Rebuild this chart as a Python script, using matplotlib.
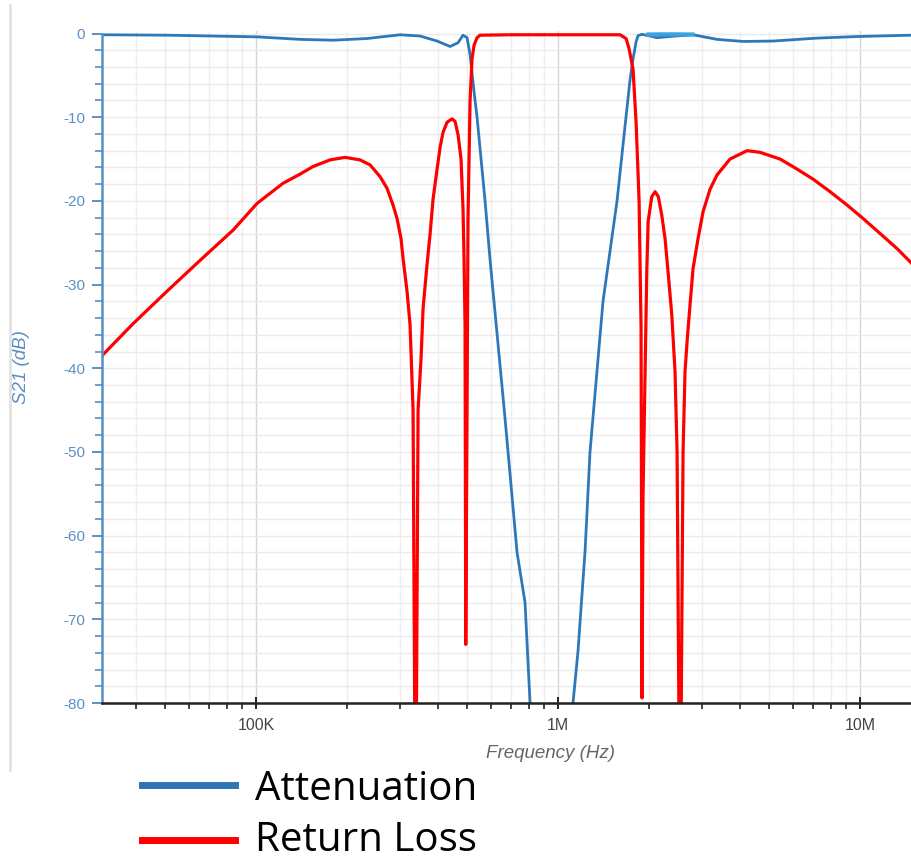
import numpy as np
import matplotlib.pyplot as plt
from matplotlib.lines import Line2D
from matplotlib.ticker import FixedLocator, MultipleLocator, FuncFormatter, NullFormatter

# Attenuation (S21), frequency in kHz / level in dB
att_khz = [30.9, 50.7, 100.8, 139.9, 179.9, 233.1, 299.8, 349.2, 397.6, 438.9,
           466.6, 484.6, 499.7, 511.3, 527.2, 539.3, 573.2, 595.4, 667.6, 731.6,
           777.5, 807.8, 826.5, 948.0, 1096, 1121, 1165, 1229, 1276, 1409,
           1568, 1667, 1732, 1772, 1813, 1841, 1897, 2017, 2127, 2440,
           2799, 3361, 4099, 5151, 7204, 10000, 14860]
att_db = [-0.15, -0.2, -0.4, -0.7, -0.8, -0.6, -0.15, -0.3, -0.9, -1.55,
          -1.1, -0.2, -0.5, -2.5, -7, -10, -20, -27, -46, -62,
          -68, -80, -88, -100, -88, -80, -73.7, -61.8, -50, -32,
          -20, -11, -5.5, -3, -1, -0.25, -0.1, -0.3, -0.5, -0.3,
          -0.15, -0.7, -0.95, -0.9, -0.55, -0.35, -0.2]

# light blue overlay segment near the top
hl_khz = [1990, 2200, 2450, 2790]
hl_db = [-0.12, -0.1, -0.1, -0.12]

# Return loss
rl_khz = [30.9, 39.1, 50.7, 65.3, 83.9, 100.8, 122.8, 139.9, 154.4, 175.8, 197.0,
          221.0, 238.5, 257.4, 271.5, 284.2, 293.0, 302.0, 306.8, 316.2, 323.6,
          331.1, 337.5, 344.0, 351.9, 357.3, 368.3, 376.9, 385.6, 397.6, 406.8,
          416.2, 429.1, 445.7, 456.0, 466.6, 477.3, 484.6, 488.4, 492.1, 494.8,
          499.7, 503.5, 511.3, 519.1, 527.2, 539.3, 551.7, 700, 1000, 1300,
          1604, 1680, 1718, 1772, 1813, 1855, 1883, 1897, 1912, 1942,
          1967, 1987, 2043, 2096, 2148, 2205, 2261, 2314, 2380, 2440,
          2478, 2535, 2594, 2633, 2680, 2736, 2799, 2908, 3021, 3187,
          3361, 3711, 4225, 4666, 5434, 6185, 6987, 7956, 9058, 10230,
          11650, 13260, 14860]
rl_db = [-38.5, -34.7, -30.8, -27.1, -23.5, -20.3, -17.9, -16.8, -15.9, -15.1, -14.8,
         -15.1, -15.7, -17.1, -18.5, -20.5, -22.1, -24.5, -26.9, -30.8, -34.8,
         -45, -100, -45, -38.8, -32.9, -27.6, -24.0, -19.8, -16.2, -13.6,
         -11.8, -10.6, -10.2, -10.5, -12.1, -15.0, -21.0, -26.9, -34.8, -73,
         -45, -22, -8, -3, -1.4, -0.5, -0.2, -0.15, -0.15, -0.15,
         -0.15, -0.6, -1.8, -4.3, -10.6, -20, -35, -79.4, -55, -40.4,
         -28.5, -22.5, -19.5, -18.9, -19.5, -21.7, -24.5, -28.5, -33.6, -40.4,
         -50, -100, -50, -40.4, -36.4, -32.4, -28.1, -24.5, -21.3, -18.6,
         -16.9, -15.0, -14.0, -14.2, -15.0, -16.2, -17.4, -18.9, -20.5, -22.1,
         -23.9, -25.7, -27.5]

x_major = [1e5, 1e6, 1e7]
x_major_labels = ['100K', '1M', '10M']

W, H = 912, 863
fig = plt.figure(figsize=(W / 100, H / 100), dpi=100)

def fx(px):
    return px / W

def fy(py):
    return 1 - py / H

ax = fig.add_axes([fx(102), fy(703), fx(912) - fx(102), fy(31) - fy(703)])

blue = '#2f78b8'
axis_blue = '#5b8fc4'

ax.plot(np.array(att_khz) * 1e3, att_db, color=blue, lw=2.0, solid_joinstyle='round')
ax.plot(np.array(hl_khz) * 1e3, hl_db, color='#3aa3de', lw=3.0)
ax.plot(np.array(rl_khz) * 1e3, rl_db, color='#ff0000', lw=2.3, solid_joinstyle='round')

ax.set_xscale('log')
ax.set_xlim(30.9e3, 14.86e6)
ax.set_ylim(-80, 0.3)

ax.xaxis.set_major_locator(FixedLocator(x_major))
ax.xaxis.set_major_formatter(FuncFormatter(lambda v, p: x_major_labels[x_major.index(v)] if v in x_major else ''))
minors = [m * 10 ** d for d in range(4, 8) for m in range(2, 10)]
ax.xaxis.set_minor_locator(FixedLocator(minors))
ax.xaxis.set_minor_formatter(NullFormatter())

ax.yaxis.set_major_locator(MultipleLocator(10))
ax.yaxis.set_minor_locator(MultipleLocator(2))
ax.yaxis.set_major_formatter(FuncFormatter(lambda v, p: '%d' % round(v)))

for s in ['top', 'right']:
    ax.spines[s].set_visible(False)
ax.spines['left'].set_color(axis_blue)
ax.spines['left'].set_linewidth(1.8)
ax.spines['bottom'].set_color('#222222')
ax.spines['bottom'].set_linewidth(1.8)
ax.spines['left'].set_bounds(-80, 0)

ax.tick_params(axis='y', which='major', length=7, width=1.4, color=axis_blue,
               labelcolor=axis_blue, labelsize=11, pad=5)
ax.tick_params(axis='y', which='minor', length=5, width=1.2, color=axis_blue)
ax.tick_params(axis='x', which='major', length=8, width=1.4, color='#222222', direction='inout',
               labelcolor='#444444', labelsize=11.5, pad=7)
ax.tick_params(axis='x', which='minor', length=4, width=1.2, color='#222222')
for lab in ax.get_yticklabels() + ax.get_xticklabels():
    lab.set_fontfamily('Liberation Sans')

ax.grid(axis='y', which='both', color='#ebebeb', lw=1.0)
ax.grid(axis='x', which='major', color='#d6d6d6', lw=1.0)
ax.grid(axis='x', which='minor', color='#eeeeee', lw=1.0)
ax.set_axisbelow(True)

ax.set_xlabel('Frequency (Hz)', fontstyle='italic', color='#666666', fontsize=13.5,
              fontfamily='Liberation Sans')
ax.xaxis.set_label_coords((551 - 102) / 810, -(745 - 703) / 672)
ax.set_ylabel('S21 (dB)', fontstyle='italic', color=axis_blue, fontsize=13.5,
              fontfamily='Liberation Sans')
ax.yaxis.set_label_coords(-(102 - 30) / 810, 0.5)

# screenshot border line on the left
fig.add_artist(Line2D([fx(10), fx(10)], [fy(5), fy(770)], color='#e2e2e2', lw=2))

# legend drawn below the chart
fig.add_artist(Line2D([fx(142), fx(235)], [fy(785), fy(785)], color='#2e75b6', lw=5))
fig.add_artist(Line2D([fx(142), fx(235)], [fy(840), fy(840)], color='#ff0000', lw=5))
fig.text(fx(255), fy(800), 'Attenuation', fontsize=29, fontfamily='Open Sans', va='baseline')
fig.text(fx(255), fy(851), 'Return Loss', fontsize=29, fontfamily='Open Sans', va='baseline')

fig.savefig('out.png', dpi=100)
